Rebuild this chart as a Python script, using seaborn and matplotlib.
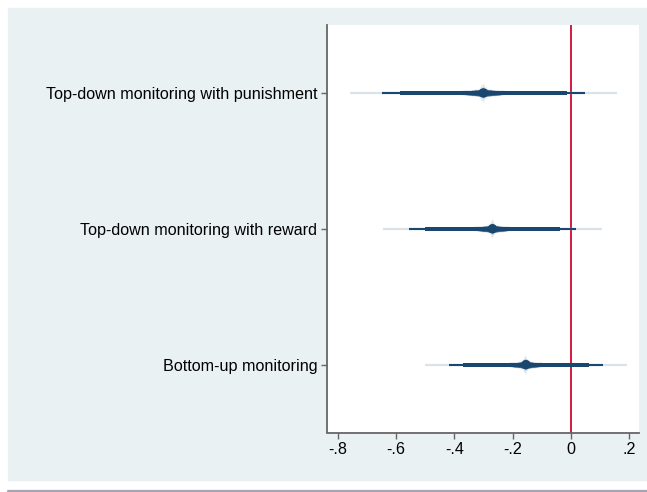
import numpy as np
import pandas as pd
import seaborn as sns
from matplotlib import pyplot as plt
from matplotlib.lines import Line2D
from matplotlib.patches import Rectangle
from statistics import NormalDist

# coefficients
labels = ["Top-down monitoring with punishment",
          "Top-down monitoring with reward",
          "Bottom-up monitoring"]
estimates = [-0.300, -0.269, -0.154]
std_errors = [0.1786, 0.146, 0.1347]

xticks = [-0.8, -0.6, -0.4, -0.2, 0, 0.2]
xtick_labels = ["-.8", "-.6", "-.4", "-.2", "0", ".2"]

navy = "#1a476f"
light = "#dae2ea"
red = "#d7193f"
bg = "#e9f1f3"
PX = 0.72  # 1 px in points at dpi 100

df = pd.DataFrame({"label": labels, "b": estimates, "se": std_errors,
                   "pos": range(len(labels))})


def z(level):
    return NormalDist().inv_cdf(0.5 + level / 200)


sns.set_theme(style="white")
plt.rcParams["font.family"] = ["Liberation Sans", "DejaVu Sans"]

fig = plt.figure(figsize=(6.47, 4.92), dpi=100)
fig.patches.append(Rectangle((8 / 647, 1 - 480 / 492), 1, 472 / 492,
                             transform=fig.transFigure, color=bg, zorder=-5))
fig.add_artist(Line2D([8 / 647, 1], [1 - 490.5 / 492] * 2, color="#a7a3b5",
                      lw=1.6, transform=fig.transFigure))

ax = fig.add_axes([327 / 647, 1 - 432.5 / 492, 312 / 647, 407.5 / 492])
ax.set_facecolor("white")

# outer intervals: 99 light, 95 dark thin, 89 dark thicker
for lev, w, c in [(99, 2.2, light), (95, 2.1, navy), (89, 4.0, navy)]:
    half = z(lev) * df["se"]
    ax.hlines(df["pos"], df["b"] - half, df["b"] + half, colors=c,
              lw=w * PX, capstyle="butt", zorder=2)

# smoothed centre: the narrower the interval, the wider the stroke
for lev in np.arange(1, 40, 2):
    half = z(lev) * df["se"]
    w = 4.0 + 5 * ((40 - lev) / 39) ** 2
    ax.hlines(df["pos"], df["b"] - half, df["b"] + half, colors=navy,
              lw=w * PX, alpha=0.22, capstyle="butt", zorder=3)
# faint spike from the very narrowest intervals
for lev, w in [(1, 20), (3, 16), (5, 12)]:
    half = z(lev) * df["se"]
    ax.hlines(df["pos"], df["b"] - half, df["b"] + half, colors=navy,
              lw=w * PX, alpha=0.08, capstyle="butt", zorder=3)

sns.scatterplot(data=df, x="b", y="pos", ax=ax, color=navy, s=(9.5 * PX) ** 2,
                edgecolor="none", zorder=4)

ax.axvline(0, color=red, lw=1.5 * PX * 1.3, zorder=1)

ax.set_xlim(-0.8375, 0.2345)
ax.set_ylim(2.5, -0.5)
ax.set_xticks(xticks)
ax.set_xticklabels(xtick_labels)
ax.set_yticks(df["pos"])
ax.set_yticklabels(labels)
ax.set_xlabel("")
ax.set_ylabel("")

for s in ["top", "right"]:
    ax.spines[s].set_visible(False)
for s in ["left", "bottom"]:
    ax.spines[s].set_color("#666666")
    ax.spines[s].set_linewidth(1.3)
ax.tick_params(axis="both", direction="out", length=4, width=1,
               color="#666666", labelsize=11.6, labelcolor="black", pad=3)
ax.tick_params(axis="x", bottom=True)
ax.tick_params(axis="y", left=True)

fig.savefig("out.png", dpi=100)
